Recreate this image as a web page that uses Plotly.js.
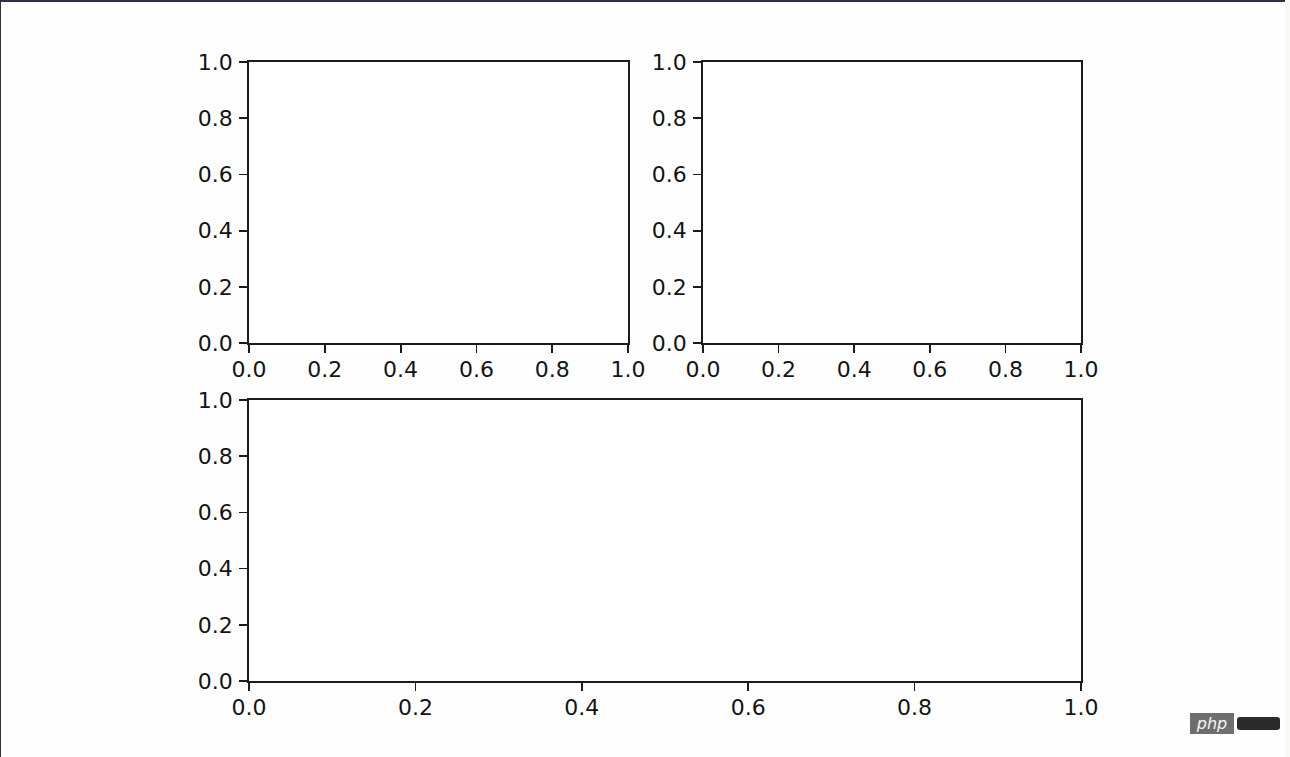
<!DOCTYPE html>
<html>
<head>
<meta charset="utf-8">
<script src="https://cdn.plot.ly/plotly-3.0.1.min.js"></script>
<style>
  html, body { margin: 0; padding: 0; background: #ffffff; }
  #wrap { position: relative; width: 1290px; height: 757px; overflow: hidden; background: #fefefe; }
  #chart { position: absolute; left: 0; top: 0; width: 1290px; height: 757px; }
  #btop { position: absolute; left: 0; top: 0; width: 1290px; height: 2px; background: #2b3046; }
  #bleft { position: absolute; left: 0; top: 0; width: 1px; height: 757px; background: #2b3046; }
  #bright { position: absolute; right: 0; top: 0; width: 5px; height: 757px; background: #fbfaf2; }
  #php { position: absolute; left: 1190px; top: 713px; width: 44px; height: 21px; background: #6e6e6e;
         color: #f4f4f4; font-family: 'DejaVu Sans', sans-serif; font-style: italic; font-size: 16px;
         line-height: 21px; text-align: center; }
  #bar { position: absolute; left: 1237px; top: 717px; width: 43px; height: 13px; background: #2a2a2a; border-radius: 3px; }
</style>
</head>
<body>
<div id="wrap">
  <div id="chart"></div>
  <div id="btop"></div>
  <div id="bleft"></div>
  <div id="bright"></div>
  <div id="php">php</div>
  <div id="bar"></div>
</div>
<script>
// Tick values and labels (all three subplots share the same 0..1 scales)
const tickValues = [0.0, 0.2, 0.4, 0.6, 0.8, 1.0];
const tickLabels = ['0.0', '0.2', '0.4', '0.6', '0.8', '1.0'];
const axisRange = [0, 1];
// Subplots are empty: no series
const subplotNames = ['top-left', 'top-right', 'bottom'];
const seriesX = [];
const seriesY = [];

const lineColor = '#1c1c1c';
function ax(domain, anchor, standoff) {
  return {
    domain: domain,
    anchor: anchor,
    range: axisRange,
    tickvals: tickValues,
    ticktext: tickLabels,
    ticks: 'outside',
    ticklen: 8,
    tickwidth: 1.8,
    tickcolor: lineColor,
    showline: true,
    linewidth: 1.8,
    linecolor: lineColor,
    mirror: true,
    showgrid: false,
    zeroline: false,
    fixedrange: true,
    automargin: false,
    ticklabelstandoff: standoff,
    tickfont: { family: 'DejaVu Sans', size: 22, color: '#141414' }
  };
}

const W = 1290, H = 757;
const xL1 = [249 / W, 628 / W];
const xL2 = [703 / W, 1081 / W];
const xL3 = [249 / W, 1081 / W];
const yTop = [1 - 343 / H, 1 - 62 / H];
const yBot = [1 - 681 / H, 1 - 400 / H];

const traces = [
  { x: seriesX, y: seriesY, xaxis: 'x', yaxis: 'y', type: 'scatter', mode: 'lines', name: subplotNames[0], showlegend: false },
  { x: seriesX, y: seriesY, xaxis: 'x2', yaxis: 'y2', type: 'scatter', mode: 'lines', name: subplotNames[1], showlegend: false },
  { x: seriesX, y: seriesY, xaxis: 'x3', yaxis: 'y3', type: 'scatter', mode: 'lines', name: subplotNames[2], showlegend: false }
];

const layout = {
  width: W,
  height: H,
  margin: { l: 0, r: 0, t: 0, b: 0, pad: 0 },
  paper_bgcolor: 'rgba(0,0,0,0)',
  plot_bgcolor: '#ffffff',
  showlegend: false,
  xaxis: ax(xL1, 'y', -2),
  yaxis: ax(yTop, 'x', 2),
  xaxis2: ax(xL2, 'y2', -2),
  yaxis2: ax(yTop, 'x2', 2),
  xaxis3: ax(xL3, 'y3', -2),
  yaxis3: ax(yBot, 'x3', 2)
};

Plotly.newPlot('chart', traces, layout, { staticPlot: true, displayModeBar: false });
</script>
</body>
</html>
